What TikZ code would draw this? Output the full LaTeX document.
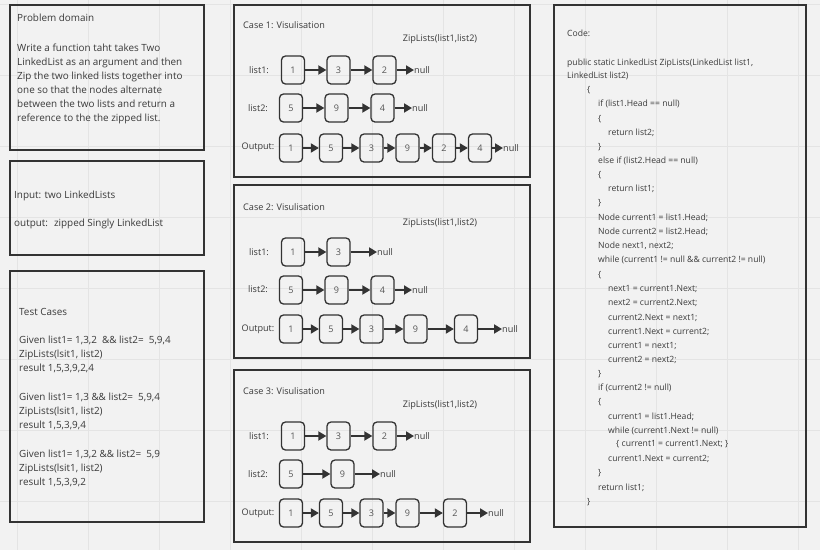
\documentclass[tikz,border=0pt]{standalone}
\usepackage{fontspec}
\setmainfont{Open Sans}
\usetikzlibrary{arrows.meta}
\definecolor{bgc}{HTML}{F2F2F2}
\definecolor{gridc}{HTML}{E4E4E4}
\definecolor{linec}{HTML}{333333}
\definecolor{textc}{HTML}{3A3A3A}
\definecolor{numc}{HTML}{555555}
\newcommand{\fsL}{\fontsize{9.9pt}{11pt}\selectfont}
\newcommand{\fsC}{\fontsize{9.1pt}{11pt}\selectfont}
\newcommand{\fsK}{\fontsize{8.6pt}{10pt}\selectfont}
\tikzset{
  panel/.style={draw=linec, line width=1.6pt},
  txt/.style={anchor=base west, inner sep=0pt, text=textc, font=\fsL},
  ctxt/.style={anchor=base west, inner sep=0pt, text=textc, font=\fsC},
  ktxt/.style={anchor=base west, inner sep=0pt, text=textc, font=\fsK},
  lbl/.style={anchor=base, inner sep=0pt, text=textc, font=\fsC},
  nd/.style={draw=linec, line width=1.3pt, rounded corners=4pt, minimum width=23pt, minimum height=28pt, inner sep=0pt, text=numc, font=\fsC},
  nul/.style={anchor=west, inner sep=0pt, text=textc, font=\fsC},
  arr/.style={draw=linec, line width=1.8pt, -{Triangle[length=8pt,width=9pt]}},
}
\begin{document}
\begin{tikzpicture}[x=1pt,y=-1pt]
\useasboundingbox (0,0) rectangle (820,550);
\fill[bgc] (0,0) rectangle (820,550);
\foreach \gx in {17,88,...,800} \draw[gridc, line width=0.8pt] (\gx,0) -- (\gx,550);
\foreach \gy in {4,75,...,550} \draw[gridc, line width=0.8pt] (0,\gy) -- (820,\gy);

% panels
\draw[panel] (10,5) rectangle (204,150);
\draw[panel] (10,161) rectangle (204,255);
\draw[panel] (10,271) rectangle (204,522);
\draw[panel] (234,5) rectangle (530,177);
\draw[panel] (234,185) rectangle (530,358);
\draw[panel] (234,370) rectangle (530,542);
\draw[panel] (554,5) rectangle (806,527);

% problem domain
\node[txt] (pd0) at (17,21.5) {Problem domain};
\node[txt] (pd1) at (17,51.5) {Write a function taht takes Two};
\node[txt] (pd2) at (17,65.5) {LinkedList as an argument and then};
\node[txt] (pd3) at (17,79.5) {Zip the two linked lists together into};
\node[txt] (pd4) at (17,93.5) {one so that the nodes alternate};
\node[txt] (pd5) at (17,107.5) {between the two lists and return a};
\node[txt] (pd6) at (17,121.5) {reference to the the zipped list.};

% input/output
\node[txt] (io1) at (14,198.5) {Input: two LinkedLists};
\node[txt] (io2) at (14,226.5) {output:~ zipped Singly LinkedList};

% test cases
\node[txt] (tc0) at (19,315.5) {Test Cases};
\node[txt] (tc1) at (19,343.5) {Given list1= 1,3,2~ \&\& list2=~ 5,9,4};
\node[txt] (tc2) at (19,357.5) {ZipLists(lsit1, list2)};
\node[txt] (tc3) at (19,371.5) {result 1,5,3,9,2,4};
\node[txt] (tc4) at (19,400.5) {Given list1= 1,3 \&\& list2=~ 5,9,4};
\node[txt] (tc5) at (19,414.5) {ZipLists(lsit1, list2)};
\node[txt] (tc6) at (19,428.5) {result 1,5,3,9,4};
\node[txt] (tc7) at (19,457.5) {Given list1= 1,3,2 \&\& list2=~ 5,9};
\node[txt] (tc8) at (19,471.5) {ZipLists(lsit1, list2)};
\node[txt] (tc9) at (19,485.5) {result 1,5,3,9,2};

% ---------- Case 1 ----------
\node[ctxt] (c1t) at (243,28) {Case 1: Visulisation};
\node[lbl] (c1z) at (440,41) {ZipLists(list1,list2)};
\node[lbl] (c1l1) at (259,73) {list1:};
\node[lbl] (c1l2) at (258,111) {list2:};
\node[lbl] (c1lo) at (258,149) {Output:};
\node[nd] (c1a1) at (293,70) {1};
\node[nd] (c1a2) at (338.5,70) {3};
\node[nd] (c1a3) at (384.5,70) {2};
\node[nul] (c1an) at (414,70) {null};
\node[nd] (c1b1) at (291,108) {5};
\node[nd] (c1b2) at (336.5,108) {9};
\node[nd] (c1b3) at (382.5,108) {4};
\node[nul] (c1bn) at (412,108) {null};
\node[nd] (c1o1) at (291,148) {1};
\node[nd] (c1o2) at (331,148) {5};
\node[nd] (c1o3) at (371.5,148) {3};
\node[nd] (c1o4) at (407.5,148) {9};
\node[nd] (c1o5) at (444,148) {2};
\node[nd] (c1o6) at (480,148) {4};
\node[nul] (c1on) at (503,148) {null};
\draw[arr] (c1a1) -- (c1a2);
\draw[arr] (c1a2) -- (c1a3);
\draw[arr] (c1a3) -- (c1an.west);
\draw[arr] (c1b1) -- (c1b2);
\draw[arr] (c1b2) -- (c1b3);
\draw[arr] (c1b3) -- (c1bn.west);
\draw[arr] (c1o1) -- (c1o2);
\draw[arr] (c1o2) -- (c1o3);
\draw[arr] (c1o3) -- (c1o4);
\draw[arr] (c1o4) -- (c1o5);
\draw[arr] (c1o5) -- (c1o6);
\draw[arr] (c1o6) -- (c1on.west);

% ---------- Case 2 ----------
\node[ctxt] (c2t) at (243,210) {Case 2: Visulisation};
\node[lbl] (c2z) at (440,225) {ZipLists(list1,list2)};
\node[lbl] (c2l1) at (259,255) {list1:};
\node[lbl] (c2l2) at (258,292) {list2:};
\node[lbl] (c2lo) at (258,331) {Output:};
\node[nd] (c2a1) at (293,252) {1};
\node[nd] (c2a2) at (338.5,252) {3};
\node[nul] (c2an) at (377,252) {null};
\node[nd] (c2b1) at (291,290) {5};
\node[nd] (c2b2) at (336.5,290) {9};
\node[nd] (c2b3) at (382.5,290) {4};
\node[nul] (c2bn) at (412,290) {null};
\node[nd] (c2o1) at (291,329) {1};
\node[nd] (c2o2) at (331,329) {5};
\node[nd] (c2o3) at (371.5,329) {3};
\node[nd] (c2o4) at (415.5,329) {9};
\node[nd] (c2o5) at (466,329) {4};
\node[nul] (c2on) at (502,329) {null};
\draw[arr] (c2a1) -- (c2a2);
\draw[arr] (c2a2) -- (c2an.west);
\draw[arr] (c2b1) -- (c2b2);
\draw[arr] (c2b2) -- (c2b3);
\draw[arr] (c2b3) -- (c2bn.west);
\draw[arr] (c2o1) -- (c2o2);
\draw[arr] (c2o2) -- (c2o3);
\draw[arr] (c2o3) -- (c2o4);
\draw[arr] (c2o4) -- (c2o5);
\draw[arr] (c2o5) -- (c2on.west);

% ---------- Case 3 ----------
\node[ctxt] (c3t) at (243,394) {Case 3: Visulisation};
\node[lbl] (c3z) at (440,407) {ZipLists(list1,list2)};
\node[lbl] (c3l1) at (259,439) {list1:};
\node[lbl] (c3l2) at (258,477) {list2:};
\node[lbl] (c3lo) at (258,515) {Output:};
\node[nd] (c3a1) at (293,436) {1};
\node[nd] (c3a2) at (338.5,436) {3};
\node[nd] (c3a3) at (384.5,436) {2};
\node[nul] (c3an) at (414,436) {null};
\node[nd] (c3b1) at (291,474) {5};
\node[nd] (c3b2) at (342.5,474) {9};
\node[nul] (c3bn) at (380,474) {null};
\node[nd] (c3o1) at (291,513) {1};
\node[nd] (c3o2) at (331,513) {5};
\node[nd] (c3o3) at (371.5,513) {3};
\node[nd] (c3o4) at (407.5,513) {9};
\node[nd] (c3o5) at (455,513) {2};
\node[nul] (c3on) at (488,513) {null};
\draw[arr] (c3a1) -- (c3a2);
\draw[arr] (c3a2) -- (c3a3);
\draw[arr] (c3a3) -- (c3an.west);
\draw[arr] (c3b1) -- (c3b2);
\draw[arr] (c3b2) -- (c3bn.west);
\draw[arr] (c3o1) -- (c3o2);
\draw[arr] (c3o2) -- (c3o3);
\draw[arr] (c3o3) -- (c3o4);
\draw[arr] (c3o4) -- (c3o5);
\draw[arr] (c3o5) -- (c3on.west);

% ---------- Code ----------
\node[ktxt] (k00) at (567,36) {Code:};
\node[ktxt] (k01) at (567,65) {public static LinkedList ZipLists(LinkedList list1,};
\node[ktxt] (k02) at (567,78) {LinkedList list2)};
\node[ktxt] (k03) at (587,92) {\{};
\node[ktxt] (k04) at (598,106) {if (list1.Head == null)};
\node[ktxt] (k05) at (598,121) {\{};
\node[ktxt] (k06) at (608,135) {return list2;};
\node[ktxt] (k07) at (598,149) {\}};
\node[ktxt] (k08) at (598,163) {else if (list2.Head == null)};
\node[ktxt] (k09) at (598,177) {\{};
\node[ktxt] (k10) at (608,191) {return list1;};
\node[ktxt] (k11) at (598,205) {\}};
\node[ktxt] (k12) at (598,220) {Node current1 = list1.Head;};
\node[ktxt] (k13) at (598,234) {Node current2 = list2.Head;};
\node[ktxt] (k14) at (598,248) {Node next1, next2;};
\node[ktxt] (k15) at (598,262) {while (current1 != null \&\& current2 != null)};
\node[ktxt] (k16) at (598,277) {\{};
\node[ktxt] (k17) at (608,291) {next1 = current1.Next;};
\node[ktxt] (k18) at (608,305) {next2 = current2.Next;};
\node[ktxt] (k19) at (608,320) {current2.Next = next1;};
\node[ktxt] (k20) at (608,334) {current1.Next = current2;};
\node[ktxt] (k21) at (608,348) {current1 = next1;};
\node[ktxt] (k22) at (608,362) {current2 = next2;};
\node[ktxt] (k23) at (598,376) {\}};
\node[ktxt] (k24) at (598,390) {if (current2 != null)};
\node[ktxt] (k25) at (598,404) {\{};
\node[ktxt] (k26) at (608,419) {current1 = list1.Head;};
\node[ktxt] (k27) at (608,433) {while (current1.Next != null)};
\node[ktxt] (k28) at (616,446) {\{ current1 = current1.Next; \}};
\node[ktxt] (k29) at (608,461) {current1.Next = current2;};
\node[ktxt] (k30) at (598,475) {\}};
\node[ktxt] (k31) at (598,490) {return list1;};
\node[ktxt] (k32) at (587,504) {\}};
\end{tikzpicture}
\end{document}
